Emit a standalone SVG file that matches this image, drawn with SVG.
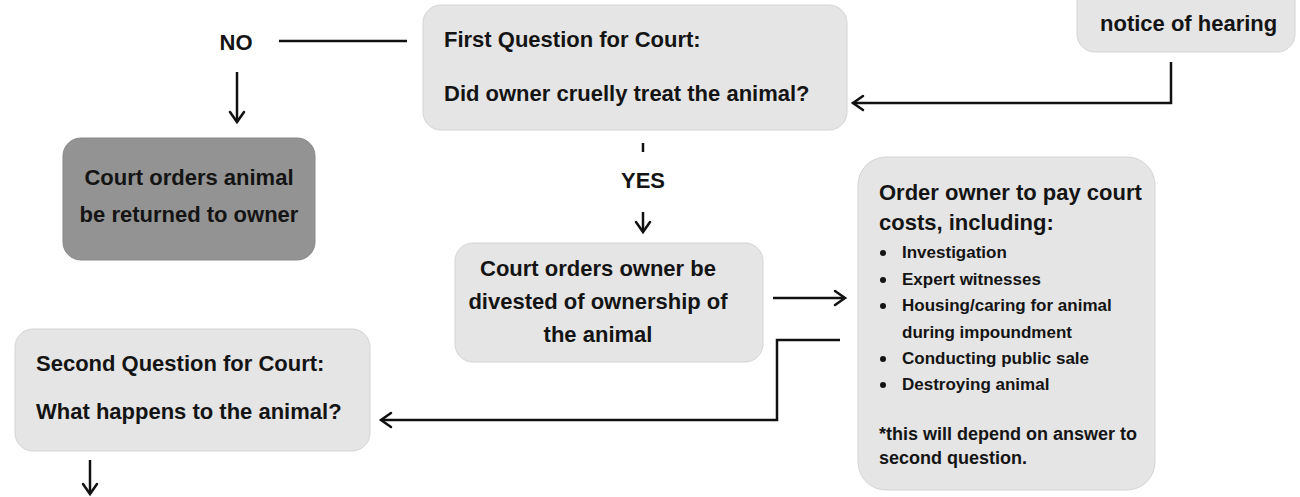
<svg xmlns="http://www.w3.org/2000/svg" width="1300" height="497" viewBox="0 0 1300 497">
<style>
.box{fill:#e5e5e5;stroke:#d4d4d4;stroke-width:1}
.dark{fill:#939393;stroke:#888888;stroke-width:1}
.t{font-family:"Liberation Sans",Arial,sans-serif;font-weight:bold;font-size:22px;fill:#141414}
.s{font-family:"Liberation Sans",Arial,sans-serif;font-weight:bold;font-size:17px;fill:#141414}
.f{font-family:"Liberation Sans",Arial,sans-serif;font-weight:bold;font-size:18px;fill:#141414}
.c{text-anchor:middle}
.ln{fill:none;stroke:#111;stroke-width:2.5}
.ah{fill:none;stroke:#111;stroke-width:2.5;stroke-linecap:round;stroke-linejoin:miter}
</style>
<defs>
<marker id="arr" markerUnits="userSpaceOnUse" markerWidth="20" markerHeight="20" refX="12" refY="8" orient="auto" viewBox="0 0 20 16">
<path d="M2,1 L12,8 L2,15" class="ah"/>
</marker>
</defs>
<rect width="1300" height="497" fill="#ffffff"/>

<g id="notice">
<rect class="box" x="1077" y="-30" width="218" height="82" rx="18"/>
<text class="t" x="1100" y="31">notice of hearing</text>
</g>

<g id="q1">
<rect class="box" x="423" y="5" width="424" height="125" rx="18"/>
<text class="t" x="444" y="47">First Question for Court:</text>
<text class="t" x="444" y="101">Did owner cruelly treat the animal?</text>
</g>

<g id="no-label">
<text class="t c" x="236" y="50">NO</text>
</g>

<g id="returned">
<rect class="dark" x="63" y="138" width="252" height="122" rx="18"/>
<text class="t c" x="189" y="185">Court orders animal</text>
<text class="t c" x="189" y="222">be returned to owner</text>
</g>

<g id="yes-label">
<text class="t c" x="643" y="188">YES</text>
</g>

<g id="divested">
<rect class="box" x="455" y="243" width="308" height="119" rx="18"/>
<text class="t c" x="598" y="276">Court orders owner be</text>
<text class="t c" x="598" y="309">divested of ownership of</text>
<text class="t c" x="598" y="342">the animal</text>
</g>

<g id="costs">
<rect class="box" x="858" y="157" width="297" height="333" rx="28"/>
<text class="t" x="879" y="200">Order owner to pay court</text>
<text class="t" x="879" y="230">costs, including:</text>
<g class="s">
<circle cx="883" cy="253" r="3" fill="#141414"/>
<text x="902" y="258">Investigation</text>
<circle cx="883" cy="280" r="3" fill="#141414"/>
<text x="902" y="285">Expert witnesses</text>
<circle cx="883" cy="306" r="3" fill="#141414"/>
<text x="902" y="311">Housing/caring for animal</text>
<text x="902" y="338">during impoundment</text>
<circle cx="883" cy="359" r="3" fill="#141414"/>
<text x="902" y="364">Conducting public sale</text>
<circle cx="883" cy="385" r="3" fill="#141414"/>
<text x="902" y="390">Destroying animal</text>
</g>
<text class="f" x="879" y="440">*this will depend on answer to</text>
<text class="f" x="879" y="464">second question.</text>
</g>

<g id="q2">
<rect class="box" x="15" y="329" width="355" height="122" rx="18"/>
<text class="t" x="36" y="371">Second Question for Court:</text>
<text class="t" x="36" y="419">What happens to the animal?</text>
</g>

<g id="connectors">
<polyline class="ln" points="1171,62 1171,103 853,103" marker-end="url(#arr)"/>
<line class="ln" x1="279" y1="41" x2="407" y2="41"/>
<line class="ln" x1="237" y1="72" x2="237" y2="122" marker-end="url(#arr)"/>
<line class="ln" x1="643" y1="143" x2="643" y2="152"/>
<line class="ln" x1="643" y1="212" x2="643" y2="232" marker-end="url(#arr)"/>
<line class="ln" x1="773" y1="298" x2="845" y2="298" marker-end="url(#arr)"/>
<polyline class="ln" points="840,340 777,340 777,420 381,420" marker-end="url(#arr)"/>
<line class="ln" x1="90" y1="460" x2="90" y2="494" marker-end="url(#arr)"/>
</g>
</svg>
